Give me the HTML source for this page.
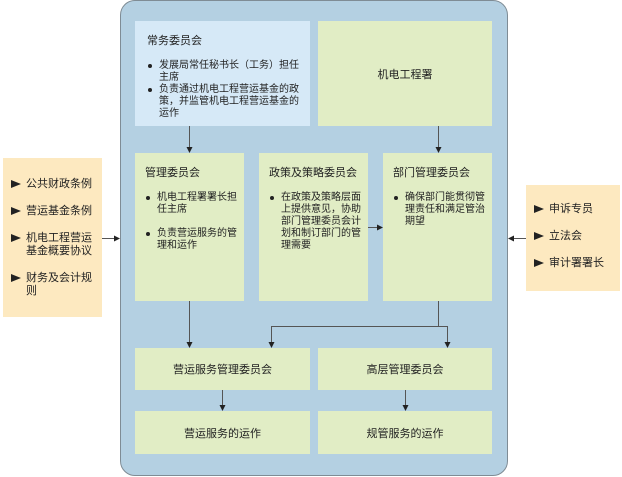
<!DOCTYPE html>
<html><head><meta charset="utf-8"><style>
*{margin:0;padding:0;box-sizing:border-box}
body{width:622px;height:477px;background:#fff;position:relative;overflow:hidden;font-family:"Liberation Sans","Noto Sans CJK SC",sans-serif;color:#222}
.a{position:absolute}
.main{left:120px;top:0;width:388px;height:476px;background:#b4d0e2;border:1px solid #7f8c95;border-radius:15px}
.g{background:#e1edc5}
.t{font-size:11px}
ul{list-style:none;font-size:10px;line-height:12px}
li{position:relative;padding-left:12px}
li:before{content:"";position:absolute;left:1px;top:4px;width:4px;height:4px;border-radius:2px;background:#222}
.c{display:flex;align-items:center;justify-content:center;font-size:11px}
.side{background:#fde9c0;font-size:11px}
.side div{position:relative;padding-left:23px;line-height:13px}
.side div:before{content:"";position:absolute;left:8px;top:2px;border-left:10px solid #222;border-top:4.5px solid transparent;border-bottom:4.5px solid transparent}
</style></head><body>
<div class="a main"></div>
<div class="a" style="left:135px;top:21px;width:175px;height:105px;background:#d6e9f7;padding:11px 10px 0 12px">
<div class="t" style="margin-bottom:12px">常务委员会</div>
<ul><li>发展局常任秘书长（工务）担任主席</li><li>负责通过机电工程营运基金的政策，并监管机电工程营运基金的运作</li></ul></div>
<div class="a g c" style="left:318px;top:21px;width:174px;height:105px">机电工程署</div>
<div class="a g" style="left:135px;top:153px;width:109px;height:148px;padding:11px 5px 0 10px">
<div class="t" style="margin-bottom:12px">管理委员会</div>
<ul><li style="margin-bottom:12px">机电工程署署长担任主席</li><li>负责营运服务的管理和运作</li></ul></div>
<div class="a g" style="left:259px;top:153px;width:109px;height:148px;padding:11px 6px 0 10px">
<div class="t" style="margin-bottom:12px">政策及策略委员会</div>
<ul><li>在政策及策略层面上提供意见，协助部门管理委员会计划和制订部门的管理需要</li></ul></div>
<div class="a g" style="left:383px;top:153px;width:109px;height:148px;padding:11px 6px 0 10px">
<div class="t" style="margin-bottom:12px">部门管理委员会</div>
<ul><li>确保部门能贯彻管理责任和满足管治期望</li></ul></div>
<div class="a g c" style="left:135px;top:348px;width:175px;height:42px">营运服务管理委员会</div>
<div class="a g c" style="left:318px;top:348px;width:174px;height:42px">高层管理委员会</div>
<div class="a g c" style="left:135px;top:411px;width:175px;height:43px">营运服务的运作</div>
<div class="a g c" style="left:318px;top:411px;width:174px;height:43px">规管服务的运作</div>
<div class="a side" style="left:3px;top:158px;width:99px;height:159px;padding:20px 4px 0 0">
<div style="margin-bottom:14px">公共财政条例</div><div style="margin-bottom:14px">营运基金条例</div><div style="margin-bottom:14px">机电工程营运基金概要协议</div><div>财务及会计规则</div></div>
<div class="a side" style="left:526px;top:185px;width:94px;height:106px;padding-top:18px">
<div style="margin-bottom:14px">申诉专员</div><div style="margin-bottom:14px">立法会</div><div>审计署署长</div></div>
<svg class="a" style="left:0;top:0" width="622" height="477">
<defs><marker id="m" markerWidth="6" markerHeight="6" refX="5" refY="3" orient="auto"><path d="M0,0L6,3L0,6z" fill="#222"/></marker></defs>
<g stroke="#555" stroke-width="1" fill="none" marker-end="url(#m)">
<path d="M189.5,126V152"/><path d="M438.5,126V152"/><path d="M368,227.5H382"/>
<path d="M102,238.5H119"/><path d="M526,238.5H509"/>
<path d="M189.5,301V347"/>
<path d="M438.5,301V326.5H271.5V347"/><path d="M438.5,326.5H447.5V347"/>
<path d="M222.5,390V410"/><path d="M405.5,390V410"/>
</g></svg>
</body></html>
